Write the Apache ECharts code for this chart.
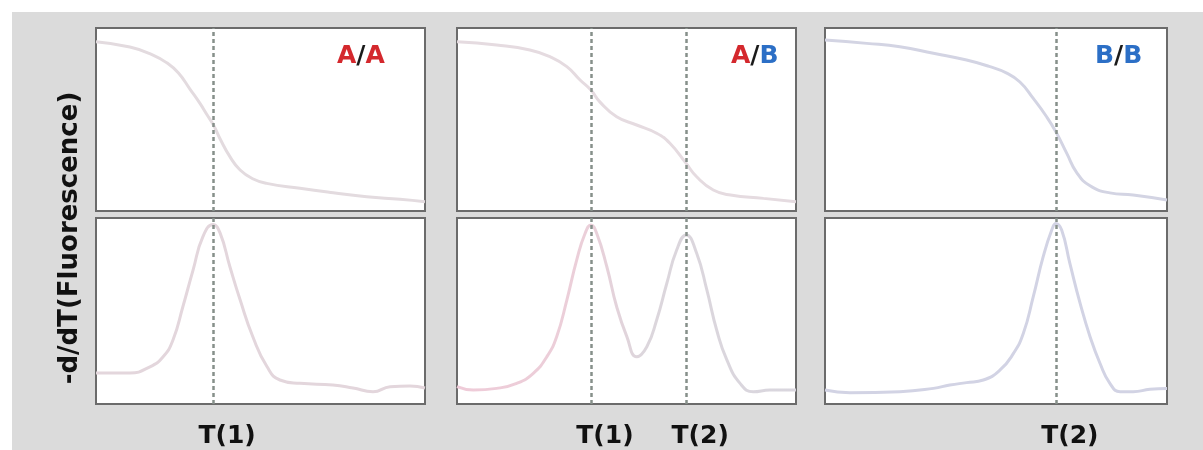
<!DOCTYPE html>
<html>
<head>
<meta charset="utf-8">
<script src="https://cdn.jsdelivr.net/npm/echarts@6/dist/echarts.min.js"></script>
<style>
  html, body { margin: 0; padding: 0; background: #fff; }
  #chart { width: 1203px; height: 450px; }
</style>
</head>
<body>
<div id="chart"></div>
<script>
// Melting temperatures (relative x position within each panel, 0..100)
const tmA = 35.6;            // T(1) for genotype A/A
const tmAB = [39.5, 67.6];   // T(1), T(2) for heterozygote A/B
const tmB = 67.5;            // T(2) for genotype B/B

// A/A : melt curve (fluorescence) and derivative
const aaMeltX = [0, 10.3, 17, 21.5, 25, 28.6, 31.6, 33.6, 35.7, 37.7, 40.7, 43.8, 47.8, 51.9, 62, 72.1, 82.3, 92.4, 100];
const aaMeltY = [92.5, 89.6, 85.5, 81, 75.5, 66.5, 58.8, 53, 47, 39.5, 29.7, 22.4, 17.5, 15.1, 12.4, 10, 7.8, 6.4, 5.1];
const aaDerivX = [0, 10.3, 16.4, 20.4, 23.4, 26.4, 29.5, 32.5, 35.6, 37.7, 40.7, 43.8, 47.7, 52, 55.9, 62, 72, 78.1, 84.2, 89.4, 95.4, 100];
const aaDerivY = [16.7, 16.7, 20, 25.4, 34.4, 52.3, 72, 90, 96.5, 92, 73.8, 56, 36, 20, 12.9, 11.1, 10.2, 8.6, 6.6, 9.3, 9.7, 8.6];

// A/B : melt curve and derivative (two peaks)
const abMeltX = [0, 11.7, 21.5, 27.4, 32.4, 36.3, 39.5, 42.2, 47.1, 53, 58.9, 62.8, 67.6, 70.7, 75.6, 80.7, 90.4, 100];
const abMeltY = [92.5, 90.7, 88, 84.3, 78.9, 71.6, 66.1, 59.5, 51.5, 47, 42.5, 37, 26, 18.7, 11.5, 8.7, 6.9, 5.1];
const abDerivX = [0, 4.8, 11.7, 17.6, 22.5, 26.5, 29.4, 32.4, 35.3, 37.8, 39.5, 41.2, 44.2, 47.1, 50.1, 53, 56, 58.9, 61.9, 64.8, 67.6, 70.7, 73.7, 76.6, 79.6, 83.5, 87.4, 92.3, 100];
const abDerivY = [9.3, 7.5, 8.4, 11.1, 16.5, 25.4, 36.2, 55.9, 77.4, 91.8, 96.2, 91.8, 73.8, 52.3, 36.2, 25.4, 30.8, 45.2, 64.9, 82.8, 90.9, 81, 61.3, 39.8, 23.7, 11.1, 6.6, 7.5, 7.5];

// B/B : melt curve and derivative
const bbMeltX = [0, 12.2, 21.9, 31.7, 41.4, 48, 53, 57, 60.9, 64.8, 67.5, 70.7, 73.6, 77.5, 83.3, 90.1, 100];
const bbMeltY = [93.4, 91.6, 89.8, 86.2, 82.5, 79, 75.5, 70.5, 61.5, 51.5, 43.3, 31.5, 21, 13.8, 9.9, 8.7, 6];
const bbDerivX = [0, 7.3, 21.9, 31.7, 36.5, 41.4, 46.3, 51.2, 55.1, 58, 60.9, 63.8, 66.3, 67.5, 69.2, 71.6, 74.6, 77.5, 80.4, 83.3, 86.3, 90.1, 95, 100];
const bbDerivY = [7.5, 6.1, 6.6, 8.4, 10.2, 11.5, 12.9, 18.3, 27.2, 38, 57.7, 79.2, 93.5, 97.1, 93.5, 75.6, 54.1, 36.2, 21.9, 11.1, 6.6, 6.6, 7.9, 8.4];

// Panel labels and axis text
const genotypes = [
  ['A', 'A'],
  ['A', 'B'],
  ['B', 'B']
];
const yTitle = '-d/dT(Fluorescence)';

const zip = (xs, ys) => xs.map((x, i) => [x, ys[i]]);

const FONT = 'DejaVu Sans';
const RED = '#d4282d';
const BLUE = '#2c6fc6';
const BORDER = '#6b6b6b';
const DASH = '#86908a';

// Layout of the three columns (pixels)
const cols = [
  { left: 96, width: 329 },
  { left: 457, width: 339 },
  { left: 825, width: 342 }
];
const rows = [
  { top: 28, height: 183 },
  { top: 218, height: 186 }
];

const grids = [];
const xAxes = [];
const yAxes = [];
cols.forEach(c => {
  rows.forEach(r => {
    grids.push({
      left: c.left, top: r.top, width: c.width, height: r.height,
      show: true, backgroundColor: '#fff', borderColor: BORDER, borderWidth: 2
    });
    const i = grids.length - 1;
    xAxes.push({ type: 'value', gridIndex: i, min: 0, max: 100, show: false });
    yAxes.push({ type: 'value', gridIndex: i, min: 0, max: 100, show: false });
  });
});

function dashes(values, names) {
  return {
    silent: true,
    symbol: ['none', 'none'],
    animation: false,
    lineStyle: { color: DASH, type: [4, 3], width: 2.5 },
    label: names ? {
      show: true,
      position: 'start',
      formatter: '{b}',
      distance: 20,
      offset: [14, 0],
      color: '#111',
      fontFamily: FONT,
      fontWeight: 'bold',
      fontSize: 25
    } : { show: false },
    data: values.map((v, i) => ({ xAxis: v, name: names ? names[i] : '' }))
  };
}

function curve(idx, data, color, marks) {
  return {
    type: 'line',
    xAxisIndex: idx,
    yAxisIndex: idx,
    data: data,
    smooth: 0.5,
    showSymbol: false,
    silent: true,
    lineStyle: { color: color, width: 3 },
    markLine: marks
  };
}

const abGradient = new echarts.graphic.LinearGradient(0, 0, 1, 0, [
  { offset: 0, color: '#efcbd8' },
  { offset: 0.38, color: '#ebcfd9' },
  { offset: 0.55, color: '#dcd6dc' },
  { offset: 1, color: '#d9d6de' }
]);

const series = [
  curve(0, zip(aaMeltX, aaMeltY), '#e3dbdf', dashes([tmA])),
  curve(1, zip(aaDerivX, aaDerivY), '#e3d6dc', dashes([tmA], ['T(1)'])),
  curve(2, zip(abMeltX, abMeltY), '#e5dbe0', dashes(tmAB)),
  curve(3, zip(abDerivX, abDerivY), abGradient, dashes(tmAB, ['T(1)', 'T(2)'])),
  curve(4, zip(bbMeltX, bbMeltY), '#d3d4e3', dashes([tmB])),
  curve(5, zip(bbDerivX, bbDerivY), '#d2d3e4', dashes([tmB], ['T(2)']))
];

const richBase = { fontFamily: FONT, fontWeight: 'bold', fontSize: 25 };
const titleLefts = [337, 731, 1095];
const titles = genotypes.map((g, i) => ({
  left: titleLefts[i],
  top: 44,
  padding: 0,
  text: `{${g[0]}|${g[0]}}{s|/}{${g[1]}|${g[1]}}`,
  textStyle: {
    rich: {
      A: Object.assign({ color: RED }, richBase),
      B: Object.assign({ color: BLUE }, richBase),
      s: Object.assign({ color: '#1a1a1a' }, richBase)
    }
  }
}));

const chart = echarts.init(document.getElementById('chart'), null, { renderer: 'canvas' });
chart.setOption({
  animation: false,
  backgroundColor: '#ffffff',
  title: titles,
  grid: grids,
  xAxis: xAxes,
  yAxis: yAxes,
  series: series,
  graphic: [
    {
      type: 'rect',
      z: -10,
      silent: true,
      shape: { x: 12, y: 12, width: 1191, height: 438 },
      style: { fill: '#dbdbdb' }
    },
    {
      type: 'text',
      silent: true,
      x: 70,
      y: 238,
      rotation: Math.PI / 2,
      style: {
        text: yTitle,
        fill: '#111',
        font: 'bold 26px "DejaVu Sans"',
        align: 'center',
        verticalAlign: 'middle'
      }
    }
  ]
});
</script>
</body>
</html>
